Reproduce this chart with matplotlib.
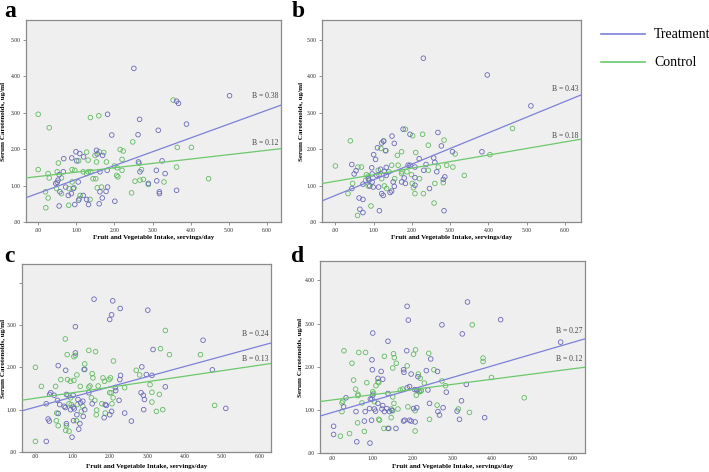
import matplotlib.pyplot as plt
import numpy as np

plt.rcParams['font.family'] = ['Liberation Serif', 'DejaVu Serif']

# ---- data (x = servings/day, y = carotenoids ug/ml) ----
a_treat_x = [2.51, 5.02, 3.63, 3.68, 1.82, 3.89, 2.66, 1.93, 2.62, 3.15, 0.99, 1.09, 1.19, 0.88,
             1.01, 1.53, 1.69, 1.55, 0.67, 2.63, 3.25, 1.81, 1.62, 0.66, 2.67, 3.10, 3.33, 0.55,
             0.52, 0.46, 1.05, 0.72, 0.92, 0.57, 0.79, 0.87, 1.18, 1.78, 1.68, 1.82, 1.27, 1.32,
             0.96, 0.55, 1.60, 2.01, 3.11, 3.18, 3.18, 2.89, 3.63, 1.06, 0.50, 1.62]
a_treat_y = [4.22, 3.47, 3.32, 3.26, 2.96, 2.69, 2.82, 2.39, 2.40, 2.52, 1.93, 1.88, 1.79, 1.76,
             1.68, 1.97, 1.83, 1.87, 1.74, 1.65, 1.68, 1.42, 1.38, 1.38, 1.38, 1.42, 1.33, 1.30,
             1.15, 1.06, 1.10, 0.96, 0.92, 0.83, 0.73, 0.78, 0.73, 0.84, 0.66, 0.96, 0.62, 0.48,
             0.48, 0.44, 0.50, 0.57, 1.13, 0.83, 0.78, 1.06, 0.87, 0.60, 1.09, 0.83]
a_ctrl_x = [0.00, 0.29, 1.37, 1.59, 3.54, 2.48, 2.15, 2.23, 1.27, 1.31, 1.06, 1.49, 1.72, 1.60,
            1.79, 3.65, 4.02, 2.20, 0.53, 0.00, 0.50, 0.89, 1.18, 1.31, 1.38, 1.27, 1.44, 1.51,
            2.00, 2.07, 2.20, 2.06, 2.09, 2.65, 2.71, 3.63, 2.67, 2.76, 2.54, 2.89, 3.30, 4.47,
            0.29, 0.26, 0.61, 0.89, 0.94, 0.81, 0.48, 0.61, 0.26, 0.19, 0.20, 0.80, 1.08, 1.36,
            1.55, 1.66, 1.10, 2.45, 1.53, 0.96]
a_ctrl_y = [2.96, 2.59, 2.87, 2.92, 3.35, 2.20, 1.99, 1.95, 1.92, 1.70, 1.68, 1.83, 1.91, 1.93,
            1.65, 2.05, 2.05, 1.72, 1.62, 1.44, 1.38, 1.44, 1.38, 1.38, 1.38, 1.33, 1.19, 1.19,
            1.54, 1.49, 1.42, 1.28, 1.24, 1.61, 1.44, 1.51, 1.15, 1.17, 1.12, 1.03, 1.10, 1.19,
            1.21, 1.33, 1.21, 1.10, 0.94, 0.92, 0.92, 0.78, 0.66, 0.83, 0.39, 0.46, 0.64, 0.62,
            0.94, 0.96, 0.73, 0.80, 1.65, 1.42]

b_treat_x = [2.30, 3.97, 5.11, 3.83, 2.68, 2.77, 1.77, 1.95, 1.48, 1.54, 1.26, 1.21, 1.10, 1.31,
             1.00, 1.05, 0.43, 0.54, 0.49, 0.95, 1.18, 1.28, 1.33, 1.08, 1.14, 0.86, 0.88, 0.96,
             0.99, 1.13, 0.90, 0.72, 0.43, 1.21, 1.25, 1.43, 1.47, 1.51, 1.54, 1.73, 1.80, 1.83,
             1.90, 1.95, 2.08, 2.31, 2.37, 2.19, 2.57, 2.60, 2.46, 2.65, 2.86, 2.82, 3.06, 0.62,
             0.72, 0.64, 0.72, 1.15, 2.84, 2.08, 2.08, 1.33, 0.96]
b_treat_y = [4.50, 4.04, 3.19, 1.93, 2.46, 2.09, 2.55, 2.41, 2.36, 2.16, 2.22, 2.17, 2.04, 1.96,
             1.85, 1.72, 1.58, 1.41, 1.32, 1.49, 1.45, 1.39, 1.28, 1.28, 1.30, 1.19, 1.15, 1.10,
             0.96, 0.96, 0.99, 1.04, 0.92, 0.78, 0.73, 0.81, 0.85, 1.10, 0.98, 1.10, 1.21, 1.06,
             1.56, 1.56, 1.51, 1.42, 1.58, 1.74, 1.76, 1.64, 0.92, 1.38, 1.24, 1.17, 1.93, 0.66,
             0.62, 0.35, 0.26, 0.31, 0.31, 1.22, 1.01, 1.50, 1.32]
b_ctrl_x = [0.00, 0.39, 1.26, 1.19, 1.32, 1.83, 2.02, 2.28, 2.43, 2.84, 3.13, 2.10, 1.73, 1.62,
            4.63, 4.04, 3.07, 3.37, 2.91, 2.69, 0.59, 0.68, 0.45, 0.33, 0.81, 0.86, 0.79, 0.86,
            0.93, 0.58, 1.12, 1.21, 1.34, 1.28, 1.64, 1.74, 1.87, 1.99, 2.01, 2.04, 2.08, 2.20,
            2.30, 2.43, 2.58, 2.60, 2.82, 1.55, 1.40, 1.47, 1.73]
b_ctrl_y = [1.54, 2.23, 2.23, 2.02, 1.96, 2.55, 2.37, 2.41, 2.11, 2.25, 1.87, 1.91, 1.93, 1.83,
            2.57, 1.85, 1.51, 1.28, 1.56, 1.51, 1.51, 1.51, 1.06, 0.78, 1.30, 1.26, 1.15, 0.99,
            0.44, 0.18, 1.42, 1.19, 0.92, 0.99, 1.56, 1.38, 1.38, 1.30, 1.06, 0.94, 0.78, 1.19,
            0.78, 1.42, 0.52, 1.06, 1.08, 1.19, 1.38, 1.56, 1.33]

c_treat_x = [1.57, 2.07, 2.27, 2.04, 1.99, 3.01, 1.07, 4.49, 3.15, 1.07, 0.61, 1.32, 0.81, 2.85,
             2.28, 2.26, 2.15, 2.14, 2.97, 3.12, 3.48, 4.74, 5.10, 0.41, 0.38, 0.29, 0.50, 0.59,
             0.83, 0.65, 0.61, 0.77, 0.80, 1.01, 1.04, 0.94, 1.14, 1.21, 1.27, 1.32, 1.28, 1.11,
             1.02, 1.19, 1.16, 0.98, 0.83, 0.34, 0.37, 0.29, 1.52, 1.87, 1.90, 2.04, 1.84, 1.99,
             2.24, 2.39, 2.57, 2.83, 2.89, 2.92, 2.90, 1.43, 1.01]
c_treat_y = [3.61, 3.57, 3.39, 3.24, 3.13, 3.35, 2.96, 2.64, 2.42, 2.34, 2.04, 1.95, 1.93, 2.01,
             1.81, 1.71, 1.45, 1.52, 1.83, 1.81, 1.54, 1.94, 1.03, 1.40, 1.36, 1.14, 1.34, 1.22,
             1.36, 1.12, 0.91, 1.08, 1.05, 1.06, 1.02, 1.00, 1.24, 1.16, 1.20, 1.00, 0.84, 0.88,
             0.74, 0.67, 0.54, 0.35, 0.67, 0.78, 0.73, 0.25, 1.14, 1.12, 1.10, 0.96, 0.81, 0.88,
             1.22, 0.92, 0.73, 1.40, 1.34, 1.24, 1.00, 1.40, 1.34]
c_ctrl_x = [0.00, 0.00, 0.16, 0.80, 0.85, 1.07, 1.03, 1.43, 1.61, 2.09, 3.48, 3.35, 3.59, 4.42,
            4.80, 1.32, 1.30, 1.52, 1.54, 0.86, 0.94, 1.03, 1.11, 0.68, 0.54, 1.20, 1.43, 1.46,
            1.68, 1.81, 1.85, 1.97, 2.01, 1.99, 2.03, 2.08, 2.39, 2.70, 2.79, 3.07, 3.12, 3.32,
            3.12, 3.41, 3.24, 0.87, 0.94, 0.90, 0.96, 1.12, 1.27, 1.23, 1.50, 1.59, 1.64, 1.78,
            1.63, 1.87, 2.05, 0.56, 0.61, 0.83, 0.81, 0.90, 1.10, 0.57]
c_ctrl_y = [2.00, 0.25, 1.55, 2.67, 2.30, 2.28, 2.25, 2.40, 2.37, 2.15, 2.87, 2.44, 2.30, 2.30,
            1.10, 2.08, 1.95, 1.85, 1.75, 1.71, 1.67, 1.69, 1.82, 1.71, 1.55, 1.55, 1.53, 1.56,
            1.56, 1.75, 1.67, 1.71, 1.75, 1.40, 1.40, 1.28, 1.52, 1.93, 1.82, 1.59, 1.41, 1.36,
            1.18, 1.00, 0.96, 1.34, 1.28, 1.14, 1.12, 1.12, 1.08, 0.96, 1.28, 1.22, 0.99, 1.14,
            0.88, 0.92, 1.14, 0.74, 0.62, 0.62, 0.51, 0.49, 0.74, 0.92]

d_treat_x = [1.87, 3.38, 1.90, 2.74, 4.21, 3.25, 1.01, 1.39, 5.71, 1.86, 0.99, 2.46, 1.00, 1.22,
             1.14, 1.26, 1.78, 1.79, 1.97, 2.14, 2.35, 2.63, 2.39, 2.85, 3.35, 1.87, 1.93, 2.06,
             2.11, 1.39, 1.01, 0.99, 1.14, 1.26, 1.24, 1.30, 1.05, 1.08, 0.93, 0.95, 0.82, 0.59,
             0.34, 0.28, 0.80, 0.98, 1.36, 1.43, 1.49, 1.78, 1.81, 1.93, 1.97, 2.07, 2.03, 2.11,
             2.43, 2.64, 2.68, 2.77, 3.18, 3.23, 3.12, 3.81, 1.41, 1.59, 0.03, 0.03, 0.61, 0.94]
d_treat_y = [3.40, 3.50, 3.08, 2.97, 3.09, 2.76, 2.78, 2.59, 2.57, 2.37, 2.16, 2.18, 1.93, 1.89,
             1.73, 1.71, 1.93, 1.87, 1.83, 1.77, 1.91, 1.89, 1.46, 1.41, 1.59, 1.51, 1.54, 1.47,
             1.46, 1.38, 1.34, 1.25, 1.15, 1.10, 1.02, 0.96, 1.02, 0.97, 1.03, 1.25, 0.96, 0.96,
             1.28, 1.07, 0.74, 0.76, 1.03, 0.96, 0.99, 0.74, 0.76, 0.76, 0.74, 0.72, 1.03, 1.05,
             1.15, 0.96, 0.88, 1.05, 0.78, 1.21, 0.97, 0.82, 0.57, 0.57, 0.62, 0.43, 0.26, 0.23]
d_ctrl_x = [0.29, 0.66, 0.83, 0.49, 1.30, 1.53, 1.55, 2.03, 2.08, 2.41, 3.50, 3.77, 3.77, 3.98,
            4.80, 1.51, 1.60, 1.87, 2.15, 2.20, 2.30, 2.54, 2.74, 2.83, 0.53, 0.58, 1.14, 1.16,
            1.09, 0.86, 1.01, 1.03, 0.64, 0.64, 0.26, 0.24, 0.24, 0.74, 1.05, 1.51, 1.54, 1.70,
            1.76, 2.14, 2.18, 2.22, 2.18, 2.22, 2.10, 1.47, 1.51, 1.64, 1.47, 1.18, 1.16, 1.29,
            1.39, 1.89, 2.07, 2.43, 2.62, 3.15, 3.43, 2.07, 0.63, 0.43, 0.20, 0.80]
d_ctrl_y = [2.37, 2.33, 2.33, 2.08, 2.24, 2.30, 2.21, 2.29, 2.39, 2.31, 2.97, 2.20, 2.12, 1.75,
            1.28, 1.97, 2.08, 2.02, 1.83, 1.73, 1.62, 1.93, 1.67, 1.56, 1.69, 1.48, 1.65, 1.63,
            1.56, 1.63, 1.42, 1.38, 1.36, 1.33, 1.20, 1.16, 0.96, 1.16, 1.19, 1.30, 1.15, 1.46,
            1.48, 1.46, 1.42, 1.45, 1.43, 1.44, 1.34, 1.02, 0.98, 1.02, 0.82, 0.76, 0.78, 0.57,
            0.57, 1.07, 0.98, 0.78, 1.11, 1.02, 0.94, 0.51, 0.70, 0.45, 0.39, 0.50]

# fitted lines: (intercept, slope)
a_fit = [(0.79, 0.38), (1.25, 0.12)]
b_fit = [(0.73, 0.43), (1.12, 0.18)]
c_fit = [(1.06, 0.24), (1.27, 0.13)]
d_fit = [(0.94, 0.27), (1.23, 0.12)]
b_labels = {'a': ['B = 0.38', 'B = 0.12'], 'b': ['B = 0.43', 'B = 0.18'],
            'c': ['B = 0.24', 'B = 0.13'], 'd': ['B = 0.27', 'B = 0.12']}
b_label_y = {'a': [3.46, 2.18], 'b': [3.65, 2.37], 'c': [2.78, 2.19], 'd': [2.83, 2.17]}

x_ticks = [0, 1, 2, 3, 4, 5, 6]
x_ticklabels = ['.00', '1.00', '2.00', '3.00', '4.00', '5.00', '6.00']

blue_pt, green_pt = '#6a6ab8', '#62bb62'
blue_ln, green_ln = '#7c80d8', '#6cc86c'

W, H = 709, 472
fig = plt.figure(figsize=(W / 100, H / 100), dpi=100)


def px_axes(l, r, t, b):
    return fig.add_axes([l / W, 1 - b / H, (r - l) / W, (b - t) / H])


# name, axes box (px), xlim, ytop, yticks, ylabels, data..., ylabel x / xlabel y (axes frac),
# letter pos, x tick length/pad
panels = [
    ('a', (26, 281, 20, 222), (-0.32, 6.37), 5.55, [0, 1, 2, 3, 4, 5],
     ['.00', '1.00', '2.00', '3.00', '4.00', '5.00'],
     a_treat_x, a_treat_y, a_ctrl_x, a_ctrl_y, a_fit, -0.080, -0.064, (4, 17), (2, 2.5)),
    ('b', (322, 581, 20, 222), (-0.35, 6.42), 5.55, [0, 1, 2, 3, 4, 5],
     ['.00', '1.00', '2.00', '3.00', '4.00', '5.00'],
     b_treat_x, b_treat_y, b_ctrl_x, b_ctrl_y, b_fit, -0.069, -0.064, (292, 17), (2, 2.5)),
    ('c', (22, 271, 264, 452), (-0.36, 6.31), 4.44, [0, 1, 2, 3, 4],
     ['.00', '1.00', '2.00', '3.00', ''],
     c_treat_x, c_treat_y, c_ctrl_x, c_ctrl_y, c_fit, -0.066, -0.063, (4, 262), (1, 0.8)),
    ('d', (320, 585, 261, 453), (-0.31, 6.32), 4.45, [0, 1, 2, 3, 4],
     ['.00', '1.00', '2.00', '3.00', '4.00'],
     d_treat_x, d_treat_y, d_ctrl_x, d_ctrl_y, d_fit, -0.066, -0.058, (291, 262), (1, 0.8)),
]

for (name, box, xlim, ytop, yt, ytl, tx, ty, cx, cy, fits, ylx, xly, lpos, xtk) in panels:
    ax = px_axes(*box)
    ax.set_facecolor('#efefef')
    for s in ax.spines.values():
        s.set_color('#8a8a8a')
        s.set_linewidth(0.9)
    ax.set_xlim(*xlim)
    ax.set_ylim(0, ytop)
    ax.scatter(cx, cy, s=11, facecolors='none', edgecolors=green_pt, linewidths=0.6, zorder=3)
    ax.scatter(tx, ty, s=11, facecolors='none', edgecolors=blue_pt, linewidths=0.6, zorder=3)
    xs = np.array(xlim)
    for (b0, b1), col in zip(fits, [blue_ln, green_ln]):
        ax.plot(xs, b0 + b1 * xs, color=col, lw=0.9, zorder=4)
    for lab, yy in zip(b_labels[name], b_label_y[name]):
        ax.text(xlim[1] - 0.06, yy, lab, ha='right', va='center', fontsize=5.5, color='#444444')
    ax.set_xticks(x_ticks)
    ax.set_xticklabels(x_ticklabels)
    ax.set_yticks(yt)
    ax.set_yticklabels(ytl)
    ax.tick_params(labelsize=4, length=2, width=0.5, color='#666666', labelcolor='#222222', pad=2)
    ax.tick_params(axis='x', length=xtk[0], pad=xtk[1])
    ax.set_xlabel('Fruit and Vegetable Intake, servings/day', fontsize=5, fontweight='bold')
    ax.set_ylabel('Serum Carotenoids, ug/ml', fontsize=5, fontweight='bold')
    ax.yaxis.set_label_coords(ylx, 0.5)
    ax.xaxis.set_label_coords(0.5, xly)
    fig.text(lpos[0] / W, 1 - lpos[1] / H, name, fontsize=17, fontweight='bold',
             ha='left', va='baseline')

# legend drawn on the right
fig.add_artist(plt.Line2D([601 / W, 645 / W], [1 - 34 / H, 1 - 34 / H], color=blue_ln, lw=1.2))
fig.add_artist(plt.Line2D([601 / W, 645 / W], [1 - 62 / H, 1 - 62 / H], color=green_ln, lw=1.2))
fig.text(654 / W, 1 - 34 / H, 'Treatment', fontsize=10, va='center', ha='left')
fig.text(654 / W, 1 - 62 / H, 'Control', fontsize=10, va='center', ha='left')

fig.savefig('out.png', dpi=100)
